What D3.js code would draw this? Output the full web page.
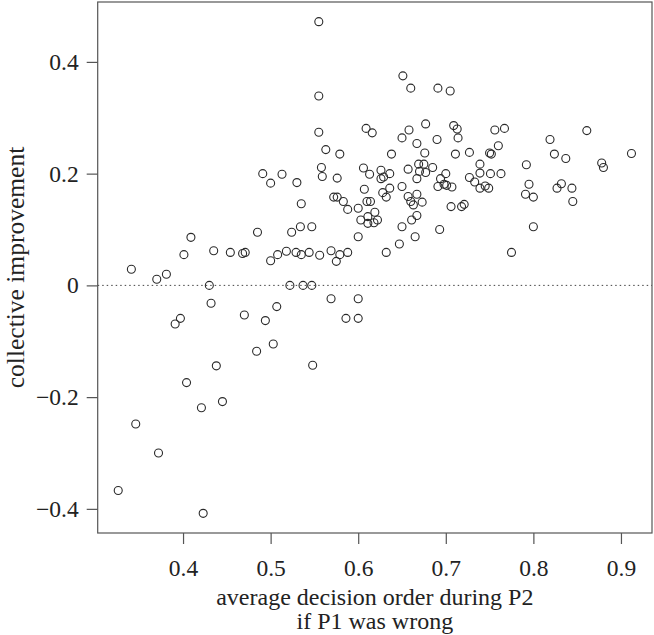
<!DOCTYPE html>
<html>
<head>
<meta charset="utf-8">
<script src="https://cdn.jsdelivr.net/npm/d3@7"></script>
<style>
  body { margin: 0; background: #fff; }
  text { font-family: "Liberation Serif", "Times New Roman", serif; fill: #222; }
</style>
</head>
<body>
<script>
// average decision order during P2 (if P1 was wrong)
var decisionOrder = [
  0.341, 0.370, 0.381, 0.401, 0.409, 0.435, 0.454, 0.468, 0.471, 0.430,
  0.432, 0.397, 0.391, 0.470, 0.494, 0.507, 0.503, 0.484, 0.438, 0.548,
  0.404, 0.445, 0.421, 0.346, 0.372, 0.326, 0.423, 0.485, 0.491, 0.513,
  0.500, 0.530, 0.524, 0.534, 0.547, 0.500, 0.508, 0.518, 0.529, 0.535,
  0.544, 0.556, 0.569, 0.575, 0.579, 0.588, 0.522, 0.537, 0.547, 0.569,
  0.600, 0.586, 0.600, 0.535, 0.555, 0.555, 0.555, 0.563, 0.579, 0.558,
  0.559, 0.576, 0.572, 0.576, 0.583, 0.588, 0.600, 0.600, 0.606, 0.613,
  0.607, 0.610, 0.614, 0.603, 0.611, 0.611, 0.618, 0.622, 0.619, 0.609,
  0.616, 0.626, 0.636, 0.626, 0.629, 0.628, 0.632, 0.636, 0.632, 0.647,
  0.650, 0.650, 0.657, 0.667, 0.660, 0.663, 0.673, 0.667, 0.661, 0.665,
  0.657, 0.669, 0.675, 0.670, 0.677, 0.685, 0.667, 0.694, 0.700, 0.691,
  0.698, 0.701, 0.707, 0.693, 0.706, 0.718, 0.721, 0.651, 0.660, 0.691,
  0.705, 0.677, 0.709, 0.713, 0.658, 0.650, 0.690, 0.714, 0.667, 0.638,
  0.676, 0.711, 0.727, 0.756, 0.767, 0.760, 0.750, 0.752, 0.739, 0.739,
  0.751, 0.763, 0.727, 0.733, 0.739, 0.745, 0.749, 0.792, 0.795, 0.791,
  0.800, 0.800, 0.775, 0.819, 0.824, 0.837, 0.832, 0.827, 0.844, 0.845,
  0.861, 0.878, 0.880, 0.912
];

// collective improvement
var improvement = [
  0.029, 0.011, 0.020, 0.055, 0.086, 0.062, 0.059, 0.057, 0.059, 0.000,
  -0.032, -0.059, -0.069, -0.053, -0.063, -0.038, -0.105, -0.118, -0.144, -0.143,
  -0.174, -0.208, -0.219, -0.248, -0.300, -0.367, -0.408, 0.095, 0.200, 0.199,
  0.183, 0.184, 0.095, 0.105, 0.105, 0.044, 0.055, 0.061, 0.059, 0.055,
  0.059, 0.054, 0.062, 0.043, 0.055, 0.059, 0.000, 0.000, 0.000, -0.024,
  -0.024, -0.059, -0.059, 0.146, 0.472, 0.339, 0.274, 0.243, 0.235, 0.211,
  0.195, 0.192, 0.158, 0.158, 0.150, 0.136, 0.138, 0.087, 0.210, 0.199,
  0.172, 0.150, 0.150, 0.117, 0.123, 0.111, 0.112, 0.117, 0.131, 0.281,
  0.273, 0.206, 0.200, 0.191, 0.194, 0.166, 0.158, 0.174, 0.059, 0.074,
  0.105, 0.177, 0.159, 0.163, 0.150, 0.144, 0.149, 0.125, 0.117, 0.087,
  0.208, 0.217, 0.217, 0.204, 0.202, 0.211, 0.191, 0.191, 0.200, 0.177,
  0.181, 0.179, 0.176, 0.100, 0.141, 0.141, 0.145, 0.375, 0.353, 0.353,
  0.348, 0.289, 0.286, 0.280, 0.278, 0.264, 0.261, 0.264, 0.254, 0.235,
  0.237, 0.235, 0.238, 0.278, 0.281, 0.250, 0.237, 0.235, 0.217, 0.201,
  0.200, 0.200, 0.193, 0.185, 0.174, 0.178, 0.174, 0.216, 0.181, 0.163,
  0.158, 0.105, 0.059, 0.261, 0.235, 0.227, 0.182, 0.174, 0.174, 0.150,
  0.277, 0.219, 0.211, 0.236
];

var xTicks = [0.4, 0.5, 0.6, 0.7, 0.8, 0.9];
var yTicks = [-0.4, -0.2, 0, 0.2, 0.4];
var xTitle = ["average decision order during P2", "if P1 was wrong"];
var yTitle = "collective improvement";

var width = 654, height = 635;
var box = { left: 97.7, right: 652, top: 2, bottom: 533 };

// R style: extend data range by 4% on each side
var padRange = function(vals) {
  var e = d3.extent(vals), d = (e[1] - e[0]) * 0.04;
  return [e[0] - d, e[1] + d];
};

var x = d3.scaleLinear().domain(padRange(decisionOrder)).range([box.left, box.right]);
var y = d3.scaleLinear().domain(padRange(improvement)).range([box.bottom, box.top]);

var svg = d3.select('body')
  .append('svg')
  .attr('width', width)
  .attr('height', height);

var fmt = function(v) {
  if (v === 0) return '0';
  return (v < 0 ? '\u2212' : '') + Math.abs(v).toFixed(1);
};

// zero reference line
svg.append('line')
  .attr('x1', box.left).attr('x2', box.right)
  .attr('y1', y(0)).attr('y2', y(0))
  .attr('stroke', '#444')
  .attr('stroke-width', 1)
  .attr('stroke-dasharray', '1.5,3');

// points
var pts = decisionOrder.map(function(d, i) { return { x: d, y: improvement[i] }; });
svg.selectAll('circle')
  .data(pts)
  .enter().append('circle')
  .attr('cx', function(d) { return x(d.x); })
  .attr('cy', function(d) { return y(d.y); })
  .attr('r', 4)
  .attr('fill', 'none')
  .attr('stroke', '#2a2a2a')
  .attr('stroke-width', 1.1);

// frame
svg.append('rect')
  .attr('x', box.left).attr('y', box.top)
  .attr('width', box.right - box.left)
  .attr('height', box.bottom - box.top)
  .attr('fill', 'none')
  .attr('stroke', '#555')
  .attr('stroke-width', 1.2);

// axes
var xAxis = svg.append('g')
  .attr('transform', 'translate(0,' + box.bottom + ')')
  .call(d3.axisBottom(x).tickValues(xTicks).tickFormat(fmt).tickSize(11).tickPadding(15));

var yAxis = svg.append('g')
  .attr('transform', 'translate(' + box.left + ',0)')
  .call(d3.axisLeft(y).tickValues(yTicks).tickFormat(fmt).tickSize(11).tickPadding(8));

[xAxis, yAxis].forEach(function(g) {
  g.select('.domain').remove();
  g.selectAll('line').attr('stroke', '#555').attr('stroke-width', 1.2);
  g.selectAll('text')
    .attr('fill', '#222')
    .style('font-family', '"Liberation Serif", serif')
    .style('font-size', '23.5px');
});

// axis titles
svg.selectAll('.xtitle')
  .data(xTitle)
  .enter().append('text')
  .attr('class', 'xtitle')
  .attr('x', (box.left + box.right) / 2)
  .attr('y', function(d, i) { return 605 + i * 24; })
  .attr('text-anchor', 'middle')
  .style('font-size', '24px')
  .text(function(d) { return d; });

svg.append('text')
  .attr('transform', 'translate(24,' + ((box.top + box.bottom) / 2) + ') rotate(-90)')
  .attr('text-anchor', 'middle')
  .style('font-size', '25.5px')
  .text(yTitle);
</script>
</body>
</html>
